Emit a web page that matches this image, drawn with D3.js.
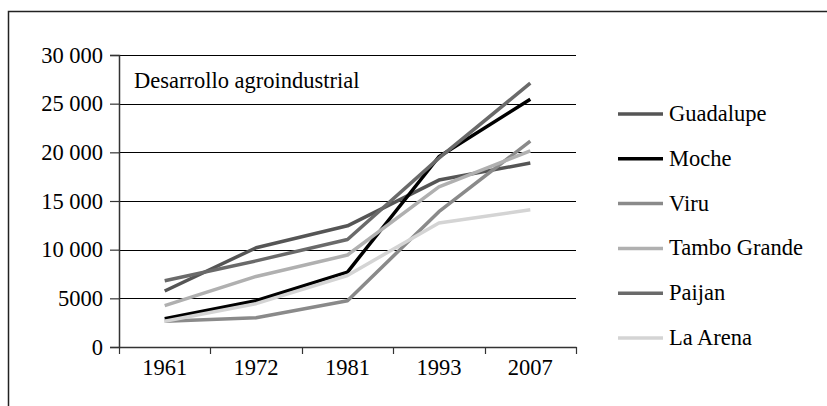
<!DOCTYPE html>
<html>
<head>
<meta charset="utf-8">
<script src="https://cdn.jsdelivr.net/npm/d3@7"></script>
<style>
  body { margin: 0; background: #fff; }
  svg, svg text { font-family: "Liberation Serif", "Times New Roman", Times, "DejaVu Serif", serif !important; }
</style>
</head>
<body>
<div id="chart"></div>
<script>
// data
const years = ["1961", "1972", "1981", "1993", "2007"];
const seriesNames = ["Guadalupe", "Moche", "Viru", "Tambo Grande", "Paijan", "La Arena"];
const guadalupe = [5750, 10200, 12450, 17150, 18900];
const moche = [2900, 4750, 7700, 19550, 25450];
const viru = [2650, 3000, 4750, 13900, 21150];
const tamboGrande = [4250, 7250, 9450, 16450, 20150];
const paijan = [6800, 8850, 11050, 19400, 27100];
const laArena = [2650, 4450, 7350, 12750, 14100];
const yTicks = [0, 5000, 10000, 15000, 20000, 25000, 30000];
const title = "Desarrollo agroindustrial";

const allValues = [guadalupe, moche, viru, tamboGrande, paijan, laArena];
const colors = ["#555555", "#000000", "#8a8a8a", "#b0b0b0", "#6a6a6a", "#d4d4d4"];

const width = 827, height = 406;
const margin = {top: 55, right: 251, bottom: 59, left: 119};
const fontSize = 22.5;

const svg = d3.select("#chart").append("svg")
    .attr("width", width)
    .attr("height", height);

// outer frame (only top and left edges fall inside the picture)
svg.append("rect")
    .attr("x", 8.5).attr("y", 11.5)
    .attr("width", 900).attr("height", 500)
    .attr("fill", "none").attr("stroke", "#222").attr("stroke-width", 1.5);

const x = d3.scaleBand()
    .domain(years)
    .range([margin.left, width - margin.right]);

const y = d3.scaleLinear()
    .domain([0, 30000])
    .range([height - margin.bottom, margin.top]);

const fmt = v => v >= 10000 ? d3.format(",")(v).replace(",", " ") : String(v);

// gridlines
svg.append("g")
  .selectAll("line")
  .data(yTicks.filter(d => d > 0))
  .join("line")
    .attr("x1", margin.left).attr("x2", width - margin.right)
    .attr("y1", d => Math.round(y(d)) + 0.5).attr("y2", d => Math.round(y(d)) + 0.5)
    .attr("stroke", "#000").attr("stroke-width", 1.2);

// y axis
const yAxis = svg.append("g")
    .attr("transform", `translate(${margin.left},0)`)
    .call(d3.axisLeft(y).tickValues(yTicks).tickFormat(fmt).tickSize(9).tickPadding(7));
yAxis.attr("font-family", null);
yAxis.select(".domain").attr("stroke", "#333").attr("stroke-width", 1.5);
yAxis.selectAll(".tick line").attr("stroke", "#333").attr("stroke-width", 1.2);
yAxis.selectAll("text").attr("font-size", fontSize).attr("fill", "#000");

// x axis with tick marks at band edges
const xAxis = svg.append("g")
    .attr("transform", `translate(0,${height - margin.bottom})`)
    .call(d3.axisBottom(x).tickSize(0).tickPadding(12).tickSizeOuter(0));
xAxis.attr("font-family", null);
xAxis.select(".domain").attr("stroke", "#333").attr("stroke-width", 1.5);
xAxis.selectAll("text").attr("font-size", fontSize).attr("fill", "#000");
xAxis.selectAll(".edge")
  .data(years.map(d => x(d)).concat([x(years[years.length - 1]) + x.bandwidth()]))
  .join("line")
    .attr("class", "edge")
    .attr("x1", d => Math.round(d) + 0.5).attr("x2", d => Math.round(d) + 0.5)
    .attr("y1", 0).attr("y2", 7)
    .attr("stroke", "#333").attr("stroke-width", 1.2);

// title inside plot
svg.append("text")
    .attr("x", margin.left + 15)
    .attr("y", 88)
    .attr("font-size", fontSize)
    .text(title);

// lines
const line = d3.line()
    .x((d, i) => x(years[i]) + x.bandwidth() / 2)
    .y(d => y(d));

svg.append("g")
  .selectAll("path")
  .data(allValues)
  .join("path")
    .attr("d", line)
    .attr("fill", "none")
    .attr("stroke", (d, i) => colors[i])
    .attr("stroke-width", 3.5)
    .attr("stroke-linejoin", "round");

// legend
const legend = svg.append("g")
  .selectAll("g")
  .data(seriesNames)
  .join("g")
    .attr("transform", (d, i) => `translate(618,${114 + i * 44.8})`);
legend.append("line")
    .attr("x1", 0).attr("x2", 45)
    .attr("stroke", (d, i) => colors[i])
    .attr("stroke-width", 3.5);
legend.append("text")
    .attr("x", 51).attr("y", 7)
    .attr("font-size", fontSize)
    .text(d => d);
</script>
</body>
</html>
